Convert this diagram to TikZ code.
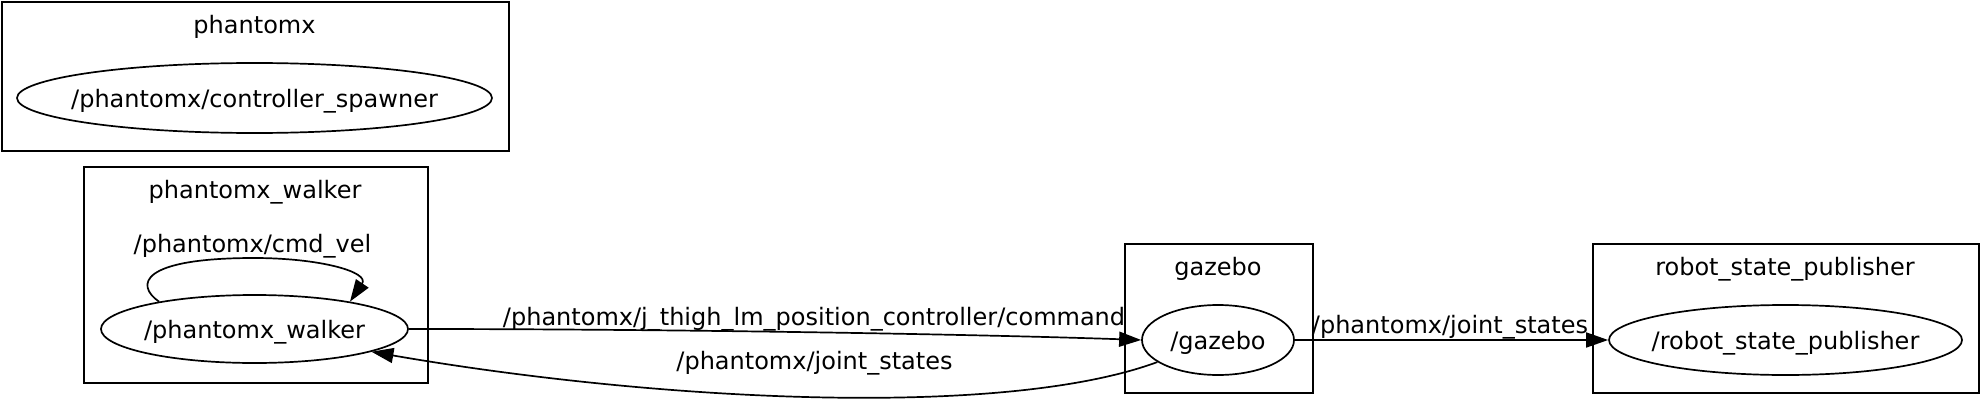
\documentclass[tikz,border=0pt]{standalone}
\usepackage{fontspec}
\setmainfont{DejaVu Sans}
\usepackage{tikz}
\usetikzlibrary{positioning}
\usetikzlibrary{shapes.geometric}
\usetikzlibrary{arrows.meta}
\tikzset{
rosnode/.style={ellipse,draw,black,inner sep=0cm,line width=1.7pt,anchor=center},
rostext/.style={inner sep=0cm,text height=23pt,text depth=3.6pt},
cluster/.style={rectangle,draw,black,inner sep=0cm,line width=1.7pt,anchor=north west},
title/.style={inner sep=0cm,anchor=base},
topic/.style={inner sep=0cm,anchor=base},
line/.style={black,line width=1.7pt,-{Triangle[length=22pt,width=15pt]}}
}

\begin{document}
\begin{tikzpicture}[x=1pt,y=-1pt,every node/.style={font=\fontsize{24}{29}\selectfont}]
    \useasboundingbox[fill=white] (0,0) rectangle (1982,415);
    {
      % clusters
      \node[cluster, minimum width=507pt, minimum height=149pt](c-phantomx) at (1,1) {};
      \node[cluster, minimum width=344pt, minimum height=216pt](c-walker) at (83,166) {};
      \node[cluster, minimum width=188pt, minimum height=149pt](c-gazebo) at (1124,243) {};
      \node[cluster, minimum width=386pt, minimum height=149pt](c-rsp) at (1592,243) {};
      \node[title](t-phantomx) at (254.5,33) {phantomx};
      \node[title](t-walker) at (255,198) {phantomx\_walker};
      \node[title](t-gazebo) at (1218,275) {gazebo};
      \node[title](t-rsp) at (1785,275) {robot\_state\_publisher};
      %
      % ros nodes
      \node[rosnode, minimum width=475pt, minimum height=70pt,
        label={[rostext]center:/phantomx/controller\_spawner}](spawner) at (254.5,98) {};
      \node[rosnode, minimum width=307pt, minimum height=68pt,
        label={[rostext]center:/phantomx\_walker}](walker) at (254.5,329) {};
      \node[rosnode, minimum width=152pt, minimum height=70pt,
        label={[rostext]center:/gazebo}](gazebo) at (1218,340) {};
      \node[rosnode, minimum width=353pt, minimum height=70pt,
        label={[rostext]center:/robot\_state\_publisher}](rsp) at (1785.5,340) {};
      %
      % topics
      \draw[line] (walker.164) .. controls (135,285) and (140,258) .. (254,258)
        .. controls (320,258) and (370,272) .. (walker.16);
      \node[topic](l-cmdvel) at (252.5,252) {/phantomx/cmd\_vel};
      \draw[line] (walker.east) .. controls (700,329) and (1000,335) .. (gazebo.west);
      \node[topic](l-command) at (814,325) {/phantomx/j\_thigh\_lm\_position\_controller/command};
      \draw[line] (gazebo.200) .. controls (1000,420) and (650,400) .. (walker.349);
      \node[topic](l-states-a) at (814.5,369) {/phantomx/joint\_states};
      \draw[line] (gazebo.east) -- (rsp.west);
      \node[topic](l-states-b) at (1450,333) {/phantomx/joint\_states};
    }
  \end{tikzpicture}
\end{document}
